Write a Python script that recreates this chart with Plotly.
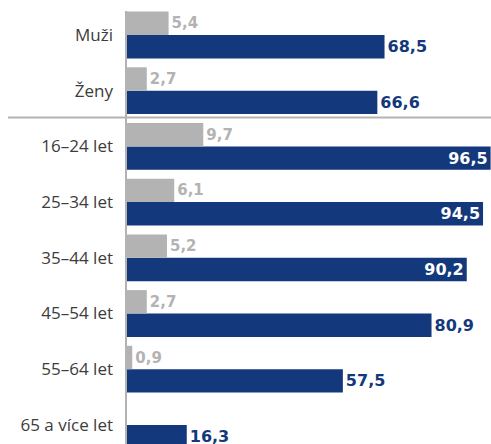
import plotly.graph_objects as go

categories = ["Muži", "Ženy", "16–24 let", "25–34 let", "35–44 let",
              "45–54 let", "55–64 let", "65 a více let"]
gray_values = [5.4, 2.7, 9.7, 6.1, 5.2, 2.7, 0.9, None]
blue_values = [68.5, 66.6, 96.5, 94.5, 90.2, 80.9, 57.5, 16.3]

GRAY = "#b3b3b3"
BLUE = "#13387c"


def fmt(v):
    return "" if v is None else f"{v:.1f}".replace(".", ",")


blue_pos = ["inside" if v > 85 else "outside" for v in blue_values]

fig = go.Figure()
fig.add_trace(go.Bar(
    y=categories, x=gray_values, orientation="h",
    xaxis="x2", yaxis="y",
    width=0.42, offset=-0.42,
    marker=dict(color=GRAY, line=dict(width=0)),
    text=[fmt(v) for v in gray_values], textposition="outside",
    textfont=dict(family="DejaVu Sans", size=15, color=GRAY, weight="bold"),
    cliponaxis=False, hoverinfo="skip", showlegend=False,
))
fig.add_trace(go.Bar(
    y=categories, x=blue_values, orientation="h",
    xaxis="x", yaxis="y",
    width=0.42, offset=0,
    marker=dict(color=BLUE, line=dict(width=0)),
    text=[fmt(v) for v in blue_values], textposition=blue_pos,
    insidetextanchor="end", constraintext="none",
    insidetextfont=dict(family="DejaVu Sans", size=16, color="white", weight="bold"),
    outsidetextfont=dict(family="DejaVu Sans", size=16, color=BLUE, weight="bold"),
    cliponaxis=False, hoverinfo="skip", showlegend=False,
))

fig.update_layout(
    width=491, height=444,
    margin=dict(l=125, r=0, t=6, b=0),
    paper_bgcolor="white", plot_bgcolor="white",
    barmode="overlay",
    xaxis=dict(range=[0, 96.6], visible=False, fixedrange=True),
    xaxis2=dict(range=[0, 45.35], visible=False, overlaying="x", side="top"),
    yaxis=dict(
        type="category", categoryorder="array", categoryarray=categories,
        range=[7.343, -0.5206], showgrid=False, zeroline=False, showline=False,
        ticks="", ticklabelstandoff=11,
        tickfont=dict(family="Open Sans", size=17, color="#3c3c3c"),
    ),
    shapes=[
        dict(type="line", xref="paper", yref="y", x0=1 / 366, x1=1 / 366,
             y0=-0.43, y1=7.343, line=dict(color=GRAY, width=2), layer="above"),
        dict(type="line", xref="paper", yref="y", x0=-117 / 366, x1=1,
             y0=1.48, y1=1.48, line=dict(color=GRAY, width=2), layer="above"),
    ],
)

fig.write_html(
    "out.html",
    config={"displayModeBar": False, "staticPlot": True},
    post_script="document.body.style.margin='0';document.body.style.overflow='hidden';",
)
